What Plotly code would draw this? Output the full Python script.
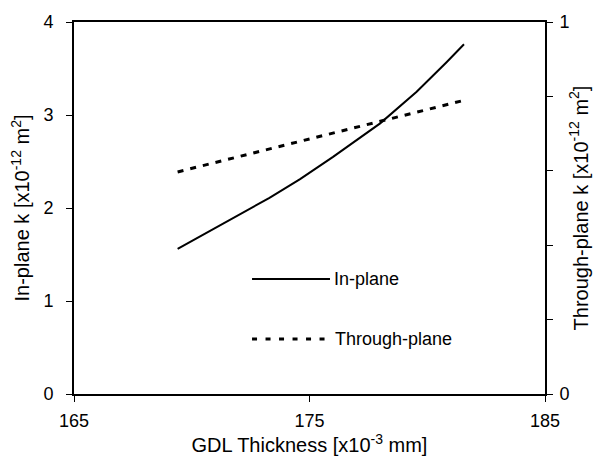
import plotly.graph_objects as go

thickness_in = [169.4, 171.2, 173.3, 174.6, 176.0, 178.0, 179.55, 180.83, 181.56]
k_in_plane = [1.56, 1.81, 2.11, 2.31, 2.55, 2.91, 3.25, 3.57, 3.76]

thickness_tp = [169.4, 181.6]
k_through_plane = [0.597, 0.790]

x_ticks = [165, 175, 185]
left_ticks = [0, 1, 2, 3, 4]
right_ticks = [0, 0.2, 0.4, 0.6, 0.8, 1.0]
right_ticktext = ["0", "", "", "", "", "1"]

FONT = "Liberation Sans, Arial, sans-serif"
TICK_SIZE = 18
TITLE_SIZE = 20

fig = go.Figure()
fig.add_trace(go.Scatter(x=thickness_in, y=k_in_plane, mode="lines", name="In-plane",
                         line=dict(color="black", width=2), showlegend=False))
fig.add_trace(go.Scatter(x=thickness_tp, y=k_through_plane, mode="lines", name="Through-plane",
                         line=dict(color="black", width=3, dash="6px,7px"), yaxis="y2",
                         showlegend=False))

axis_common = dict(showline=True, linecolor="black", linewidth=2, ticks="outside",
                   ticklen=6, tickwidth=1, tickcolor="black", showgrid=False, zeroline=False,
                   automargin=False,
                   tickfont=dict(family=FONT, size=TICK_SIZE, color="black"))

fig.update_layout(
    width=598, height=458,
    margin=dict(l=74, r=53, t=22, b=64),
    plot_bgcolor="white", paper_bgcolor="white",
    font=dict(family=FONT, size=TICK_SIZE, color="black"),
    xaxis=dict(range=[165, 185], tickvals=x_ticks, mirror=True, ticklabelstandoff=3,
               title=dict(text="GDL Thickness [x10<sup>-3</sup> mm]", standoff=6,
                          font=dict(family=FONT, size=TITLE_SIZE)),
               **axis_common),
    yaxis=dict(range=[0, 4], tickvals=left_ticks, ticklabelstandoff=9,
               title=dict(text="In-plane k [x10<sup>-12</sup> m<sup>2</sup>]", standoff=8,
                          font=dict(family=FONT, size=TITLE_SIZE)),
               **axis_common),
    yaxis2=dict(range=[0, 1], tickvals=right_ticks, ticktext=right_ticktext,
                overlaying="y", side="right", ticklabelstandoff=3,
                title=dict(text="Through-plane k [x10<sup>-12</sup> m<sup>2</sup>]", standoff=5,
                           font=dict(family=FONT, size=TITLE_SIZE)),
                **axis_common),
)

# Manual legend
fig.add_shape(type="line", xref="paper", yref="paper", x0=0.378, x1=0.5435, y0=0.309, y1=0.309,
              line=dict(color="black", width=2))
fig.add_annotation(xref="paper", yref="paper", x=0.548, y=0.309, text="In-plane", showarrow=False,
                   xanchor="left", yanchor="middle", font=dict(family=FONT, size=18, color="black"))
fig.add_shape(type="line", xref="paper", yref="paper", x0=0.378, x1=0.54, y0=0.148, y1=0.148,
              line=dict(color="black", width=3, dash="5px,8.5px"))
fig.add_annotation(xref="paper", yref="paper", x=0.55, y=0.148, text="Through-plane", showarrow=False,
                   xanchor="left", yanchor="middle", font=dict(family=FONT, size=18, color="black"))

fig.write_html("out.html")
